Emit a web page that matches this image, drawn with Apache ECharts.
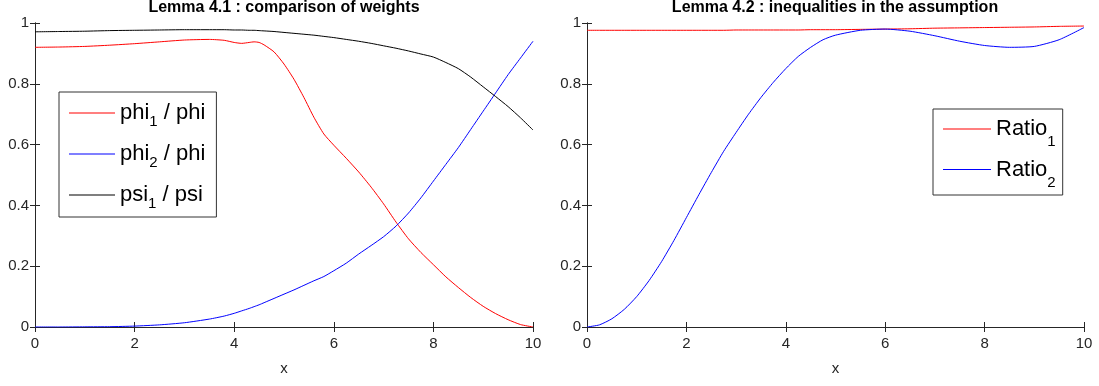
<!DOCTYPE html>
<html>
<head>
<meta charset="utf-8">
<script src="https://cdn.jsdelivr.net/npm/echarts@6/dist/echarts.min.js"></script>
<style>
    html, body { margin: 0; padding: 0; background: #fff; }
    #chart { width: 1099px; height: 386px; }
</style>
</head>
<body>
<div id="chart"></div>
<script>
const FONT = '"Liberation Sans", Arial, Helvetica, sans-serif';
const AXIS = "#262626";

// Lemma 4.1 : comparison of weights
const xLeft = [0, 0.5, 1, 1.5, 2, 2.5, 3, 3.5, 3.8, 4.0, 4.15, 4.3, 4.4, 4.5, 4.6, 4.8, 5, 5.2, 5.4, 5.6, 5.8, 6,
    6.25, 6.5, 6.75, 7, 7.25, 7.5, 7.75, 8, 8.25, 8.5, 8.75, 9, 9.25, 9.5, 9.75, 10];
const phi1 = [0.920, 0.921, 0.923, 0.927, 0.932, 0.938, 0.944, 0.946, 0.943, 0.936, 0.933, 0.936, 0.938, 0.936,
    0.928, 0.905, 0.865, 0.815, 0.755, 0.69, 0.635, 0.598, 0.555, 0.51, 0.46, 0.405, 0.345, 0.29, 0.245, 0.205,
    0.165, 0.13, 0.097, 0.068, 0.044, 0.024, 0.008, 0.0];
const phi2 = [0, 0, 0.0005, 0.001, 0.003, 0.007, 0.014, 0.026, 0.036, 0.045, 0.053, 0.061, 0.067, 0.073, 0.08,
    0.094, 0.108, 0.122, 0.137, 0.152, 0.166, 0.185, 0.21, 0.24, 0.268, 0.297, 0.332, 0.375, 0.425, 0.48, 0.535,
    0.59, 0.65, 0.71, 0.77, 0.83, 0.885, 0.94];
const psi1 = [0.971, 0.972, 0.973, 0.975, 0.976, 0.977, 0.978, 0.978, 0.978, 0.977, 0.977, 0.976, 0.976, 0.975,
    0.974, 0.972, 0.969, 0.966, 0.963, 0.96, 0.956, 0.952, 0.946, 0.94, 0.933, 0.925, 0.917, 0.908, 0.898, 0.888,
    0.87, 0.85, 0.822, 0.79, 0.758, 0.725, 0.688, 0.648];

// Lemma 4.2 : inequalities in the assumption
const xRight = [0, 0.25, 0.5, 0.75, 1, 1.25, 1.5, 1.75, 2, 2.25, 2.5, 2.75, 3, 3.25, 3.5, 3.75, 4, 4.25, 4.5, 4.75,
    5, 5.5, 6, 6.5, 7, 7.5, 8, 8.5, 9, 9.5, 10];
const ratio1 = [0.976, 0.976, 0.976, 0.976, 0.976, 0.976, 0.976, 0.976, 0.976, 0.976, 0.976, 0.976, 0.977, 0.977,
    0.977, 0.977, 0.977, 0.977, 0.978, 0.978, 0.978, 0.979, 0.980, 0.981, 0.983, 0.984, 0.985, 0.986, 0.987,
    0.989, 0.990];
const ratio2 = [0, 0.007, 0.027, 0.058, 0.1, 0.153, 0.215, 0.285, 0.36, 0.435, 0.508, 0.578, 0.64, 0.70, 0.755,
    0.805, 0.85, 0.89, 0.92, 0.945, 0.96, 0.976, 0.980, 0.973, 0.958, 0.94, 0.926, 0.92, 0.923, 0.945, 0.985];

// legend labels: [key style, main, subscript, rest]
const legendLabels = {
    "phi1/phi": ["kr", "phi", "1", " / phi"],
    "phi2/phi": ["kb", "phi", "2", " / phi"],
    "psi1/psi": ["kk", "psi", "1", " / psi"],
    "Ratio1": ["kr", "Ratio", "1", ""],
    "Ratio2": ["kb", "Ratio", "2", ""],
};
const colors = {
    "phi1/phi": "#ff0000",
    "phi2/phi": "#0000ff",
    "psi1/psi": "#000000",
    "Ratio1": "#ff0000",
    "Ratio2": "#0000ff",
};

function pairs(xs, ys) {
    return xs.map((x, i) => [x, ys[i]]);
}

function xAxes(grid) {
    return [
        {
            gridIndex: grid, type: "value", position: "bottom", min: 0, max: 10, interval: 2,
            name: "x", nameLocation: "middle", nameGap: 34,
            nameTextStyle: { color: AXIS, fontSize: 15, fontFamily: FONT },
            axisLine: { lineStyle: { color: AXIS, width: 1 } },
            axisTick: { inside: true, length: 5, lineStyle: { color: AXIS } },
            axisLabel: { color: AXIS, fontSize: 15, fontFamily: FONT, margin: 9 },
            splitLine: { show: false },
        },
        {
            gridIndex: grid, type: "value", position: "top", min: 0, max: 10, interval: 2,
            axisLine: { lineStyle: { color: AXIS, width: 1 } },
            axisTick: { inside: true, length: 5, lineStyle: { color: AXIS } },
            axisLabel: { show: false },
            splitLine: { show: false },
        },
    ];
}

function yAxes(grid) {
    return [
        {
            gridIndex: grid, type: "value", position: "left", min: 0, max: 1, interval: 0.2,
            axisLine: { show: true, lineStyle: { color: AXIS, width: 1 } },
            axisTick: { show: true, inside: true, length: 5, lineStyle: { color: AXIS } },
            axisLabel: { color: AXIS, fontSize: 15, fontFamily: FONT, margin: 6 },
            splitLine: { show: false },
        },
        {
            gridIndex: grid, type: "value", position: "right", min: 0, max: 1, interval: 0.2,
            axisLine: { show: true, lineStyle: { color: AXIS, width: 1 } },
            axisTick: { show: true, inside: true, length: 5, lineStyle: { color: AXIS } },
            axisLabel: { show: false },
            splitLine: { show: false },
        },
    ];
}

function line(name, xs, ys, axisIndex) {
    return {
        name: name,
        type: "line",
        xAxisIndex: axisIndex,
        yAxisIndex: axisIndex,
        data: pairs(xs, ys),
        symbol: "none",
        smooth: 0.2,
        color: colors[name],
        lineStyle: { color: colors[name], width: 1 },
        itemStyle: { color: colors[name] },
        legendHoverLink: false,
        emphasis: { disabled: true },
        animation: false,
    };
}

// the key line is drawn inside the label (rich token), the legend icon itself is hidden
function legend(names, pos, lineH, subPad, itemGap, keyWidth, padding) {
    const key = (c) => ({ width: keyWidth, height: 1, backgroundColor: c, verticalAlign: "middle" });
    return {
        data: names,
        orient: "vertical",
        left: pos[0],
        top: pos[1],
        icon: "rect",
        itemWidth: 0,
        itemHeight: 0,
        itemStyle: { opacity: 0 },
        itemGap: itemGap,
        padding: padding,
        borderColor: "#333",
        borderWidth: 1,
        borderRadius: 0,
        backgroundColor: "#fff",
        selectedMode: false,
        formatter: (name) => {
            const p = legendLabels[name];
            return "{" + p[0] + "| }{m|" + p[1] + "}{s|" + p[2] + "}" + (p[3] ? "{a|" + p[3] + "}" : "");
        },
        textStyle: {
            fontFamily: FONT,
            rich: {
                kr: key("#ff0000"),
                kb: key("#0000ff"),
                kk: key("#000000"),
                m: { fontSize: 22, lineHeight: lineH, padding: [0, 0, 0, 5], verticalAlign: "middle", color: "#000", fontFamily: FONT },
                a: { fontSize: 22, lineHeight: lineH, verticalAlign: "middle", color: "#000", fontFamily: FONT },
                s: { fontSize: 15, padding: [subPad, 0, 0, 0], verticalAlign: "middle", color: "#000", fontFamily: FONT },
            },
        },
    };
}

const chart = echarts.init(document.getElementById("chart"));
chart.setOption({
    animation: false,
    backgroundColor: "#fff",
    title: [
        {
            text: "Lemma 4.1 : comparison of weights",
            left: 284, top: 0, textAlign: "center", padding: 0,
            textStyle: { fontSize: 16, fontWeight: "bold", color: "#000", fontFamily: FONT, lineHeight: 16 },
        },
        {
            text: "Lemma 4.2 : inequalities in the assumption",
            left: 835, top: 0, textAlign: "center", padding: 0,
            textStyle: { fontSize: 16, fontWeight: "bold", color: "#000", fontFamily: FONT, lineHeight: 16 },
        },
    ],
    grid: [
        { left: 35, right: 566, top: 23, bottom: 59 },
        { left: 587, right: 15, top: 23, bottom: 59 },
    ],
    xAxis: [...xAxes(0), ...xAxes(1)],
    yAxis: [...yAxes(0), ...yAxes(1)],
    legend: [
        legend(["phi1/phi", "phi2/phi", "psi1/psi"], [59, 92], 34, 17, 14, 46, [10, 11, 6, 5]),
        legend(["Ratio1", "Ratio2"], [933, 109], 39, 26, 9, 48, [9, 7, 5, 5]),
    ],
    series: [
        line("phi1/phi", xLeft, phi1, 0),
        line("phi2/phi", xLeft, phi2, 0),
        line("psi1/psi", xLeft, psi1, 0),
        line("Ratio1", xRight, ratio1, 2),
        line("Ratio2", xRight, ratio2, 2),
    ],
});
</script>
</body>
</html>
